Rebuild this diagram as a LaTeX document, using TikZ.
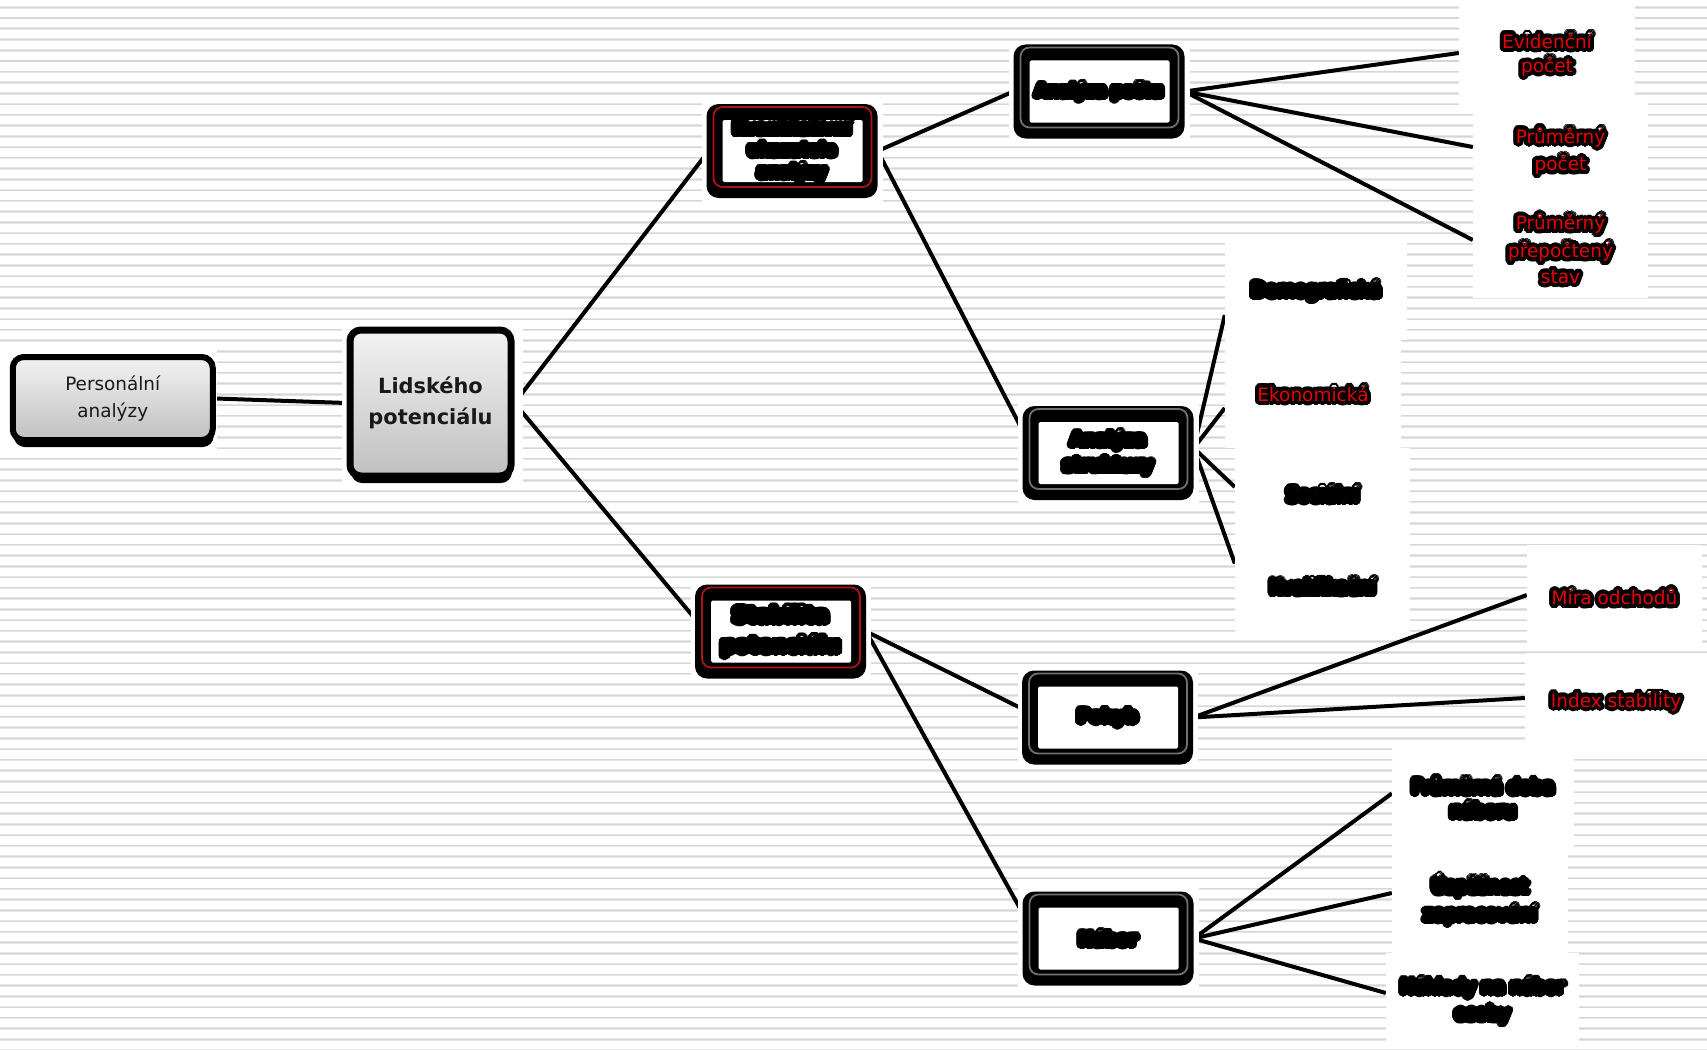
\documentclass[tikz,border=0pt]{standalone}
\usepackage{fontspec}
\setmainfont{DejaVu Sans}
\usetikzlibrary{shadows,calc}
\definecolor{stripeA}{RGB}{229,229,229}
\definecolor{stripeB}{RGB}{214,214,214}
\definecolor{redline}{RGB}{170,20,20}
\definecolor{grayline}{RGB}{112,112,112}
\definecolor{txtred}{RGB}{232,0,0}
\definecolor{gtop}{RGB}{243,243,243}
\definecolor{gbot}{RGB}{192,192,192}
\pgfdeclarelayer{bg}\pgfdeclarelayer{lines}\pgfdeclarelayer{patches}
\pgfsetlayers{bg,lines,patches,main}
\newsavebox\haloboxa
\newcommand\halo[2]{%
  \sbox\haloboxa{\color{black}#2}%
  \mbox{\foreach \hang in {0,15,...,345}{%
      \pgfmathsetlengthmacro\hx{4pt*cos(\hang)}%
      \pgfmathsetlengthmacro\hy{4pt*sin(\hang)}%
      \rlap{\hspace*{\hx}\raisebox{\hy}{\usebox\haloboxa}}}%
    \textcolor{#1}{#2}}}
\begin{document}
\begin{tikzpicture}[x=1pt,y=-1pt,
  conn/.style={line width=4pt, black},
  leaf/.style={rectangle, fill=white, inner sep=0pt, align=center, font=\fontsize{18.5}{21}\selectfont},
  mainbox/.style={rectangle, rounded corners=11pt, draw=black, line width=6pt,
    top color=gtop, bottom color=gbot, align=center, inner sep=0pt, text=black!90,
    drop shadow={shadow xshift=1pt, shadow yshift=-7pt, fill=black, opacity=1}},
  hbox/.style={rectangle, rounded corners=12pt, fill=black, minimum width=171pt,
    minimum height=94pt, inner sep=0pt, align=center,
    path picture={
      \draw[draw=#1, line width=1.8pt, rounded corners=9pt]
        ([xshift=7pt,yshift=-3pt]path picture bounding box.north west) rectangle
        ([xshift=-6pt,yshift=11pt]path picture bounding box.south east);
      \fill[white, rounded corners=1.5pt]
        ([xshift=16pt,yshift=-16pt]path picture bounding box.north west) rectangle
        ([xshift=-15pt,yshift=16pt]path picture bounding box.south east);
    }},
  bf16/.style={font=\bfseries\fontsize{16}{20}\selectfont},
  bf17/.style={font=\bfseries\fontsize{17}{22}\selectfont},
  bf20/.style={font=\bfseries\fontsize{20}{30}\selectfont}
]
\useasboundingbox (0,0) rectangle (1707,1049);
\begin{pgfonlayer}{bg}
  \fill[white] (0,0) rectangle (1707,1049);
  \foreach \k in {0,...,97}{
    \draw[stripeA, line width=2.6pt] (0,{7.3+\k*10.75}) -- (1707,{7.3+\k*10.75});
    \draw[stripeB, line width=1.1pt] (0,{7.3+\k*10.75}) -- (1707,{7.3+\k*10.75});
  }
\end{pgfonlayer}

% main nodes
\node[mainbox, minimum width=200pt, minimum height=83pt,
  font=\fontsize{18.4}{27}\selectfont] (p) at (112.75,398.5) {Personální\\analýzy};
\node[mainbox, line width=7pt, minimum width=161pt, minimum height=146pt,
  font=\bfseries\fontsize{20.9}{31}\selectfont] (l) at (430.5,403) {Lidského\\potenciálu};

% boxes
\node[hbox=redline, bf16] (a1) at (792,151)
  {\halo{black}{Kvantitativní}\\\halo{black}{ukazatele}\\\halo{black}{analýzy}};
\node[hbox=grayline, bf16] (a2) at (1099,91.5) {\halo{black}{Analýza počtu}};
\node[hbox=grayline, bf17] (a3) at (1108,453) {\halo{black}{Analýza}\\\halo{black}{struktury}};
\node[hbox=redline, bf20] (b1) at (780.5,631.5) {\halo{black}{Stabilita}\\\halo{black}{potenciálu}};
\node[hbox=grayline, bf17] (b2) at (1107.5,717.5) {\halo{black}{Pohyb}};
\node[hbox=grayline, bf17] (b3) at (1108,938.5) {\halo{black}{Nábor}};

% leaves
\node[leaf, minimum width=176pt, minimum height=110pt] (e1) at (1547,55)
  {\halo{txtred}{Evidenční}\\\halo{txtred}{počet}};
\node[leaf, minimum width=175pt, minimum height=98pt] (e2) at (1560.5,151)
  {\halo{txtred}{Průměrný}\\\halo{txtred}{počet}};
\node[leaf, minimum width=175pt, minimum height=98pt] (e3) at (1560.5,249)
  {\halo{txtred}{Průměrný}\\\halo{txtred}{přepočtený}\\\halo{txtred}{stav}};
\node[leaf, minimum width=182pt, minimum height=98pt] (d1) at (1316,291) {\halo{black}{Demografická}};
\node[leaf, minimum width=176pt, minimum height=108pt] (d2) at (1313,394) {\halo{txtred}{Ekonomická}};
\node[leaf, minimum width=175pt, minimum height=92pt] (d3) at (1322.5,494) {\halo{black}{Sociální}};
\node[leaf, minimum width=175pt, minimum height=93pt] (d4) at (1322.5,586.5) {\halo{black}{Kvalifikační}};
\node[leaf, minimum width=175pt, minimum height=105pt] (m) at (1614.5,597) {\halo{txtred}{Míra odchodů}};
\node[leaf, minimum width=182pt, minimum height=98pt] (ix) at (1616,702) {\halo{txtred}{Index stability}};
\node[leaf, minimum width=182pt, minimum height=99pt] (c1) at (1483,797.5)
  {\halo{black}{Průměrná doba}\\\halo{black}{náboru}};
\node[leaf, minimum width=176pt, minimum height=106pt] (c2) at (1480,900)
  {\halo{black}{Úspěšnost}\\\halo{black}{zapracování}};
\node[leaf, minimum width=193pt, minimum height=96pt] (c3) at (1482.5,1001)
  {\halo{black}{Náklady na nábor}\\\halo{black}{osoby}};

% white patches behind boxes
\begin{pgfonlayer}{patches}
  \fill[white] (0,350) rectangle (217,450);
  \fill[white] (342,325) rectangle (523,485);
  \foreach \n in {a1,a2,a3,b1,b2,b3}{
    \fill[white] ([xshift=-4pt,yshift=3pt]\n.north west) rectangle ([xshift=5pt,yshift=-4pt]\n.south east);
  }
\end{pgfonlayer}

% connectors
\begin{pgfonlayer}{lines}
  \draw[conn] (p.east) -- (l.west);
  \draw[conn] (l.east) -- ([yshift=-3pt]a1.west);
  \draw[conn] (l.east) -- ([yshift=13pt]b1.west);
  \draw[conn] (a1.east) -- (a2.west);
  \draw[conn] (a1.east) -- ([yshift=23pt]a3.west);
  \draw[conn] (a2.east) -- ([yshift=2pt]e1.west);
  \draw[conn] (a2.east) -- ([yshift=4pt]e2.west);
  \draw[conn] (a2.east) -- ([yshift=9pt]e3.west);
  \draw[conn] ([yshift=5pt]a3.east) -- ([yshift=-24pt]d1.west);
  \draw[conn] ([yshift=5pt]a3.east) -- ([yshift=-14pt]d2.west);
  \draw[conn] ([yshift=5pt]a3.east) -- ([yshift=7pt]d3.west);
  \draw[conn] ([yshift=5pt]a3.east) -- ([yshift=23pt]d4.west);
  \draw[conn] (b1.east) -- ([yshift=9pt]b2.west);
  \draw[conn] (b1.east) -- ([yshift=26pt]b3.west);
  \draw[conn] (b2.east) -- ([yshift=2pt]m.west);
  \draw[conn] (b2.east) -- ([yshift=4pt]ix.west);
  \draw[conn] (b3.east) -- ([yshift=4pt]c1.west);
  \draw[conn] (b3.east) -- ([yshift=7pt]c2.west);
  \draw[conn] (b3.east) -- ([yshift=8pt]c3.west);
\end{pgfonlayer}
\end{tikzpicture}
\end{document}
